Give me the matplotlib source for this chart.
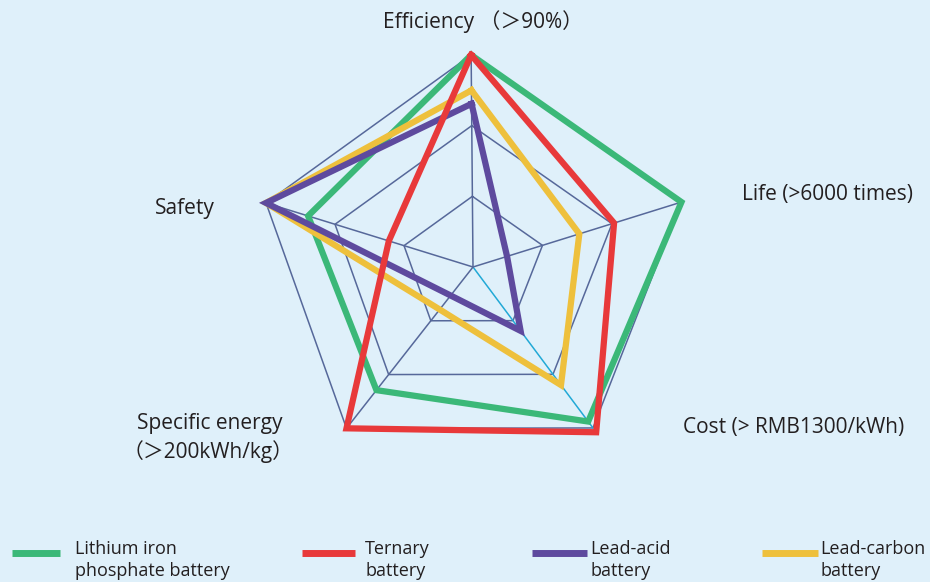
import numpy as np
import matplotlib.pyplot as plt
from matplotlib.lines import Line2D

# ejes del radar
ejes = ['Efficiency', 'Life', 'Cost', 'Specific energy', 'Safety']

# valores (escala 0-3)
lfp = [3.0, 3.0, 2.88, 2.29, 2.39]
ternaria = [3.0, 2.03, 3.08, 3.0, 1.22]
plomo_acido = [2.31, 0.49, 1.19, 0.53, 3.0]
plomo_carbono = [2.5, 1.53, 2.2, 0.79, 3.0]

series = [
    ('Lithium iron\nphosphate battery', lfp, '#3bb878'),
    ('Ternary\nbattery', ternaria, '#e8393a'),
    ('Lead-acid\nbattery', plomo_acido, '#5e4a9e'),
    ('Lead-carbon\nbattery', plomo_carbono, '#eec03c'),
]
orden_z = {'#3bb878': 3, '#eec03c': 4, '#5e4a9e': 5, '#e8393a': 6}

# el pentagono original esta dibujado a mano: angulo y escala de cada eje
angulos = [90.5, 17.3, -53.3, -128.1, 162.8]
escala = [1.0, 1.03, 0.947, 0.967, 1.022]

W, H = 930, 582
fondo = '#dff0fa'
texto = '#231f20'
plt.rcParams['font.family'] = ['Open Sans', 'Noto Sans CJK SC', 'DejaVu Sans']


def px(x, y):
    # pixeles -> fraccion de figura
    return x / W, 1 - y / H


fig = plt.figure(figsize=(W / 100, H / 100), dpi=100, facecolor=fondo)

rmax = 3.3
cx, cy = 473, 267
R = 212 * rmax / 3  # 3 unidades = 212 px
ax = fig.add_axes([(cx - R) / W, (H - cy - R) / H, 2 * R / W, 2 * R / H],
                  projection='polar')
ax.set_facecolor('none')
ax.set_ylim(0, rmax)
ax.axis('off')

th = np.deg2rad(angulos)
th_c = np.append(th, th[0])
esc_c = np.append(escala, escala[0])

# rejilla pentagonal
for r in [1, 2, 3]:
    ax.plot(th_c, r * esc_c, color='#56689a', lw=1.1, zorder=1)
for i, t in enumerate(th):
    col = '#22a9d6' if ejes[i] == 'Cost' else '#56689a'
    ax.plot([t, t], [0, 3 * escala[i]], color=col, lw=1.1, zorder=1)

for nombre, vals, col in series:
    v = np.append(vals, vals[0]) * esc_c
    ax.plot(th_c, v, color=col, lw=4.5, zorder=orden_z[col],
            solid_joinstyle='miter', clip_on=False)

# etiquetas de los ejes
fs = 15
kw = dict(fontsize=fs, color=texto, ha='left', va='center', fontweight=500)
fig.text(*px(383, 22), 'Efficiency \uff08\uff1e90%\uff09', **kw)
fig.text(*px(742, 195), 'Life (>6000 times)', **kw)
fig.text(*px(683, 427), 'Cost (> RMB1300/kWh)', **kw)
fig.text(*px(137, 424), 'Specific energy', **kw)
fig.text(*px(123, 452), '\uff08\uff1e200kWh/kg\uff09', **kw)
fig.text(*px(155, 208), 'Safety', **kw)

# leyenda manual
x_ley = [(12, 60, 75), (302, 355, 365), (532, 587, 590), (762, 818, 820)]
for (nombre, vals, col), (x0, x1, xt) in zip(series, x_ley):
    a = px(x0, 553)
    b = px(x1, 553)
    fig.add_artist(Line2D([a[0], b[0]], [a[1], b[1]], color=col, lw=5,
                          solid_capstyle='butt'))
    fig.text(*px(xt, 560), nombre, fontsize=13, color=texto, ha='left',
             va='center', linespacing=1.3, fontweight=500)

fig.savefig('out.png', dpi=100, facecolor=fondo)
